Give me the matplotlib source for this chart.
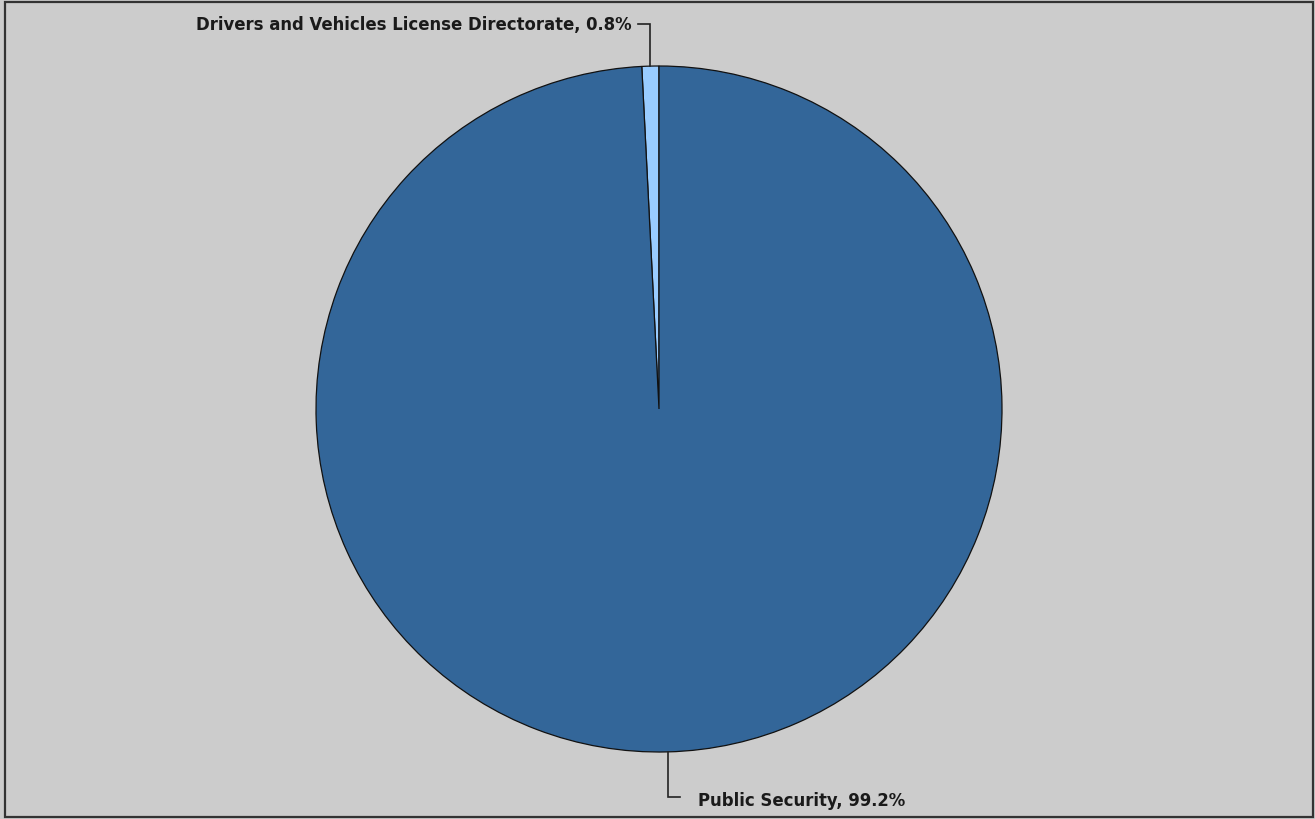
import numpy as np
import matplotlib
matplotlib.use("Agg")
import matplotlib.pyplot as plt
from matplotlib.patches import Rectangle

labels = ["Drivers and Vehicles License Directorate", "Public Security"]
values = [0.8, 99.2]
colors = ["#99CCFF", "#336699"]

W, H = 1315, 820
fig = plt.figure(figsize=(W / 100, H / 100), dpi=100)
fig.patch.set_facecolor("#CCCCCC")
fig.add_artist(Rectangle((5 / W, 2 / H), (1313 - 5) / W, (817 - 2) / H,
                         transform=fig.transFigure, fill=False,
                         edgecolor="#333333", linewidth=1.6))

cx, cy, r = 659, 410, 343
ax = fig.add_axes([(cx - r) / W, (H - cy - r) / H, 2 * r / W, 2 * r / H])
ax.set_facecolor("none")
wedges, _ = ax.pie(values, colors=colors, startangle=90, counterclock=True,
                   wedgeprops=dict(edgecolor="#111111", linewidth=0.9))
ax.set_xlim(-1, 1)
ax.set_ylim(-1, 1)
ax.set_aspect("equal")
ax.axis("off")

fs = 11.9
for w, lab, v in zip(wedges, labels, values):
    mid = np.deg2rad((w.theta1 + w.theta2) / 2)
    x0, y0 = np.cos(mid), np.sin(mid)
    up = y0 > 0
    y1 = y0 + (0.123 if up else -0.131)
    dx = -0.035 if x0 < 0 else 0.035
    x1 = x0 + dx
    ax.plot([x0, x0, x1], [y0, y1, y1], color="#222222", lw=1.2,
            clip_on=False, solid_joinstyle="miter")
    tx = x1 + (-0.02 if dx < 0 else 0.053)
    ax.text(tx, y1 - (0.0 if up else 0.008), f"{lab}, {v:.1f}%",
            ha="right" if dx < 0 else "left",
            va="center", fontsize=fs, color="#1a1a1a", fontweight="bold",
            family="DejaVu Sans", clip_on=False)

fig.savefig("out.png", dpi=100, facecolor=fig.get_facecolor())
